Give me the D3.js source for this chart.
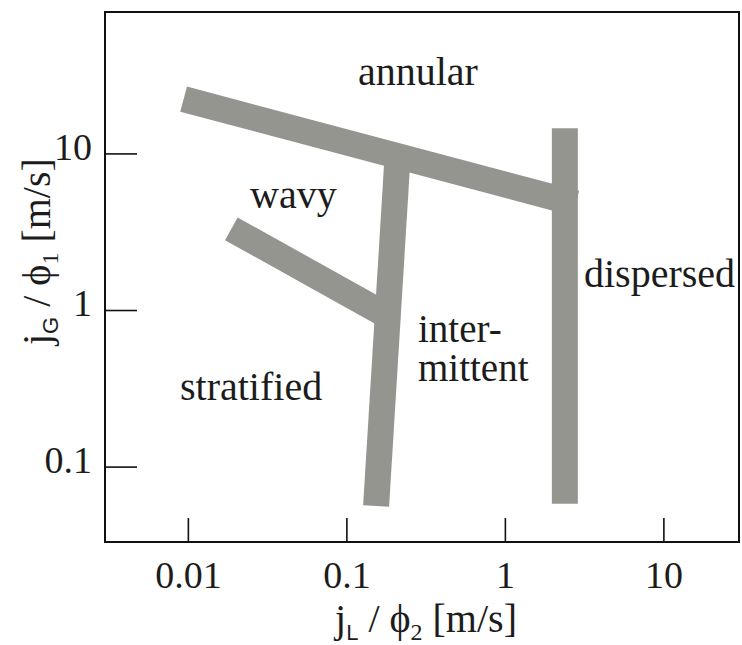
<!DOCTYPE html>
<html>
<head>
<meta charset="utf-8">
<script src="https://cdn.jsdelivr.net/npm/d3@7"></script>
<style>
  html, body { margin: 0; padding: 0; background: #fff; }
  svg { display: block; }
</style>
</head>
<body>
<svg id="chart" width="742" height="645"></svg>
<script>
// Flow-regime map: superficial gas velocity vs superficial liquid velocity (log-log)

const SERIF = "'Liberation Serif', Tinos, 'Times New Roman', 'DejaVu Serif', serif";

// Axis ticks
const xTickValues = [0.01, 0.1, 1, 10];
const xTickLabels = ["0.01", "0.1", "1", "10"];
const yTickValues = [0.1, 1, 10];
const yTickLabels = ["0.1", "1", "10"];

// Transition bands, as [jL/phi2, jG/phi1] end points in m/s
const bandAnnular      = [[0.0094, 22.2], [2.8, 4.8]];
const bandIntermittent = [[0.21, 9.3], [0.154, 0.056]];
const bandWavy         = [[0.0188, 3.3], [0.183, 0.915]];
const bandDispersed    = [[2.39, 14.5], [2.39, 0.058]];

// Regime names
const regimeNames = ["annular", "wavy", "dispersed", "inter-", "mittent", "stratified"];

const svg = d3.select("#chart");

const x = d3.scaleLog().domain([0.003, 30]).range([105, 739]);
const y = d3.scaleLog().domain([0.033, 80]).range([542, 12]);

// Bands
const line = d3.line().x(d => x(d[0])).y(d => y(d[1]));
const bands = [bandAnnular, bandIntermittent, bandWavy, bandDispersed];
svg.append("g")
  .selectAll("path")
  .data(bands)
  .join("path")
  .attr("d", line)
  .attr("fill", "none")
  .attr("stroke", "#959590")
  .attr("stroke-width", 26)
  .attr("stroke-linecap", "butt");

// Frame
svg.append("rect")
  .attr("x", x.range()[0]).attr("y", y.range()[1])
  .attr("width", x.range()[1] - x.range()[0])
  .attr("height", y.range()[0] - y.range()[1])
  .attr("fill", "none")
  .attr("stroke", "#111")
  .attr("stroke-width", 2);

// Axes (ticks point inward)
const xAxis = d3.axisBottom(x)
  .tickValues(xTickValues)
  .tickFormat((d, i) => xTickLabels[i])
  .tickSizeInner(-24).tickSizeOuter(0).tickPadding(19);
const gx = svg.append("g").attr("transform", `translate(0,${y.range()[0]})`).call(xAxis);

const yAxis = d3.axisLeft(y)
  .tickValues(yTickValues)
  .tickFormat((d, i) => yTickLabels[i])
  .tickSizeInner(-32).tickSizeOuter(0).tickPadding(13);
const gy = svg.append("g").attr("transform", `translate(${x.range()[0]},0)`).call(yAxis);

[gx, gy].forEach(g => {
  g.attr("font-family", null).attr("font-size", null);
  g.select(".domain").remove();
  g.selectAll(".tick line").attr("stroke", "#111").attr("stroke-width", 1.6);
  g.selectAll(".tick text")
    .attr("fill", "#1c1c1c")
    .attr("font-family", SERIF)
    .attr("font-size", 38);
});
gy.selectAll(".tick text").attr("dy", "0.15em");

// Regime labels
const labelPos = [
  [358, 85], [250, 208], [584, 287], [418, 342], [418, 381], [180, 400]
];
const labelSize = [40, 40, 40, 39, 39, 40];
svg.append("g")
  .selectAll("text")
  .data(regimeNames)
  .join("text")
  .attr("x", (d, i) => labelPos[i][0])
  .attr("y", (d, i) => labelPos[i][1])
  .attr("font-family", SERIF)
  .attr("font-size", (d, i) => labelSize[i])
  .attr("fill", "#1c1c1c")
  .text(d => d);

// Axis titles
function title(g, main, sub1, mid, sub2, tail) {
  const t = g.append("text")
    .attr("font-family", SERIF).attr("font-size", 40).attr("fill", "#1c1c1c");
  t.append("tspan").text(main);
  t.append("tspan").attr("dy", 8).attr("font-size", 22)
    .attr("font-family", "'Liberation Sans', Arial, sans-serif").text(sub1);
  t.append("tspan").attr("dy", -8).text(mid);
  t.append("tspan").attr("dy", 8).attr("font-size", 24).text(sub2);
  t.append("tspan").attr("dy", -8).text(tail);
  return t;
}

title(svg.append("g").attr("transform", "translate(335,632)"),
  "j", "L", " / \u03D5", "2", " [m/s]");

title(svg.append("g").attr("transform", "translate(50,345) rotate(-90)"),
  "j", "G", " / \u03D5", "1", " [m/s]");
</script>
</body>
</html>
